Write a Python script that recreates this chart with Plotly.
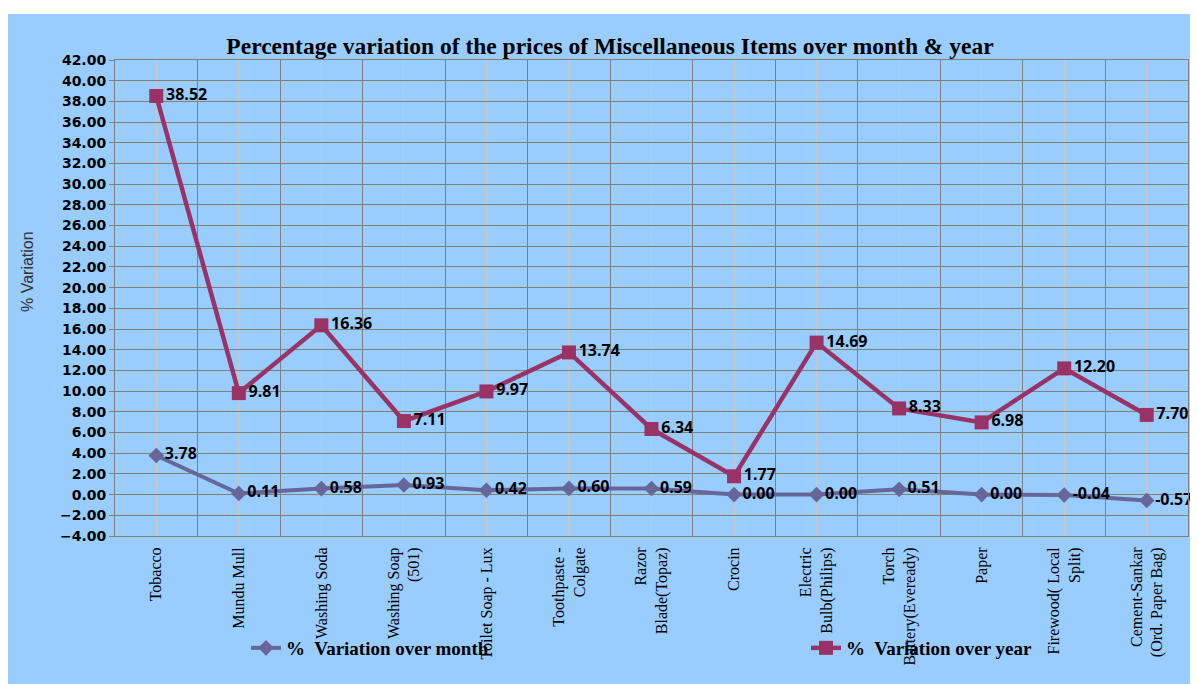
# ==========================================
# plot.py - Miscellaneous items price variation (Plotly)
# ==========================================

import plotly.graph_objects as go

# --- data ---
items = [
    'Tobacco',
    'Mundu Mull',
    'Washing Soda',
    'Washing Soap<br>(501)',
    'Toilet Soap - Lux',
    'Toothpaste -<br>Colgate',
    'Razor<br>Blade(Topaz)',
    'Crocin',
    'Electric<br>Bulb(Philips)',
    'Torch<br>Battery(Eveready)',
    'Paper',
    'Firewood( Local<br>Split)',
    'Cement-Sankar<br>(Ord. Paper Bag)',
]
var_month = [3.78, 0.11, 0.58, 0.93, 0.42, 0.60, 0.59, 0.00, 0.00, 0.51, 0.00, -0.04, -0.57]
var_year = [38.52, 9.81, 16.36, 7.11, 9.97, 13.74, 6.34, 1.77, 14.69, 8.33, 6.98, 12.20, 7.70]
y_ticks = list(range(-4, 44, 2))

BG_BLUE = '#99CCFF'
GRID_DARK = '#808080'
GRID_LIGHT = '#C8C8C8'

# 頁面本身有 8px 邊界，圖表尺寸扣除之
W, H = 1190, 676
M_L, M_R, M_T, M_B = 107, 10, 52, 148
plot_w = W - M_L - M_R
plot_h = H - M_T - M_B


def px_to_paper_x(px):
    return (px - M_L) / plot_w


def px_to_paper_y(py):
    return (H - M_B - py) / plot_h


def build_figure():
    x_pos = list(range(len(items)))
    label_font = dict(family='Open Sans', size=16, color='black', weight='bold')
    fig = go.Figure()

    # 月變動（標籤用一般連字號，避免被右邊界切掉）
    fig.add_trace(go.Scatter(
        x=x_pos, y=var_month,
        mode='lines+markers+text',
        name='%  Variation over month',
        line=dict(color='#666699', width=4),
        marker=dict(symbol='diamond', size=12, color='#666699'),
        text=[f'{v:.2f}' for v in var_month],
        texttemplate='%{text}',
        textposition='middle right',
        textfont=label_font,
        cliponaxis=False,
        legend='legend',
    ))

    # 年變動
    fig.add_trace(go.Scatter(
        x=x_pos, y=var_year,
        mode='lines+markers+text',
        name='%  Variation over year',
        line=dict(color='#993366', width=4.5),
        marker=dict(symbol='square', size=14, color='#993366'),
        text=[f'{v:.2f}' for v in var_year],
        texttemplate='%{text}',
        textposition='middle right',
        textfont=label_font,
        cliponaxis=False,
        legend='legend2',
    ))

    # 上方與右側白邊
    for x0, x1, y0, y1 in [(0, W, 0, 6), (W - 2, W, 0, H)]:
        fig.add_shape(
            type='rect', xref='paper', yref='paper', layer='below',
            x0=px_to_paper_x(x0), x1=px_to_paper_x(x1),
            y0=px_to_paper_y(y1), y1=px_to_paper_y(y0),
            fillcolor='white', line=dict(width=0),
        )

    fig.add_annotation(
        text='% Variation', textangle=-90,
        xref='paper', yref='paper',
        x=px_to_paper_x(19), y=px_to_paper_y(264),
        xanchor='center', yanchor='middle',
        showarrow=False,
        font=dict(family='Liberation Sans', size=16, color='#333333'),
    )

    legend_font = dict(family='Liberation Serif', size=19, color='black', weight='bold')

    fig.update_layout(
        width=W, height=H,
        margin=dict(l=M_L, r=M_R, t=M_T, b=M_B),
        title=dict(
            text='Percentage variation of the prices of Miscellaneous Items over month & year',
            x=602 / W, xanchor='center',
            y=1 - 38 / H, yanchor='middle',
            font=dict(family='Liberation Serif', size=23.5, color='black', weight='bold'),
        ),
        paper_bgcolor=BG_BLUE,
        plot_bgcolor=BG_BLUE,
        showlegend=True,
        legend=dict(
            x=px_to_paper_x(238), xanchor='left',
            y=px_to_paper_y(640), yanchor='middle',
            bgcolor='rgba(0,0,0,0)', font=legend_font, itemsizing='trace',
        ),
        legend2=dict(
            x=px_to_paper_x(798), xanchor='left',
            y=px_to_paper_y(640), yanchor='middle',
            bgcolor='rgba(0,0,0,0)', font=legend_font, itemsizing='trace',
        ),
    )

    fig.update_xaxes(
        range=[-0.5, len(items) - 0.5],
        tickvals=x_pos, ticktext=items,
        tickangle=-90,
        tickfont=dict(family='Liberation Serif', size=16, color='black'),
        showgrid=True, gridcolor=GRID_LIGHT, gridwidth=1,
        minor=dict(tick0=0.5, dtick=1, showgrid=True, gridcolor=GRID_DARK, gridwidth=1),
        showline=True, linecolor=GRID_DARK, linewidth=1, mirror=True,
        ticks='', zeroline=False,
        ticklabelstandoff=4,
    )

    fig.update_yaxes(
        range=[-4, 42],
        tickvals=y_ticks,
        tickformat='.2f',
        tickfont=dict(family='DejaVu Sans', size=14, color='black', weight='bold'),
        showgrid=True, gridcolor=GRID_DARK, gridwidth=1,
        showline=True, linecolor=GRID_DARK, linewidth=1, mirror=True,
        ticks='outside', ticklen=5, tickcolor=GRID_DARK,
        zeroline=False,
    )

    return fig


fig = build_figure()
fig.write_html('out.html')
